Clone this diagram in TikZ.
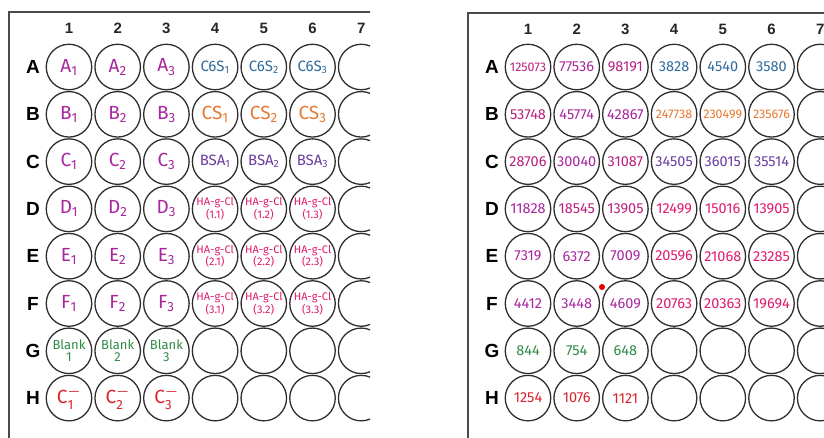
\documentclass[tikz,border=0pt]{standalone}
\usepackage{fontspec}
\usepackage{amsmath}
\setmainfont{Liberation Sans}
\newfontfamily\hand{Fira Sans}
\definecolor{mag}{HTML}{A8259E}
\definecolor{magr}{HTML}{B8207F}
\definecolor{blueC}{HTML}{2F6A9C}
\definecolor{orangeC}{HTML}{E8772F}
\definecolor{purpC}{HTML}{6A3C9E}
\definecolor{pinkC}{HTML}{E01A6E}
\definecolor{greenC}{HTML}{2E8B48}
\definecolor{redC}{HTML}{D8222E}
\definecolor{frameC}{HTML}{4A4A4A}
\tikzset{
  well/.style={circle, draw=black!82, line width=1.3pt, minimum size=45.5pt, inner sep=0pt},
  frameline/.style={draw=frameC, line width=2.2pt},
  rowlab/.style={font=\fontsize{19}{19}\selectfont\bfseries, inner sep=0pt},
  collab/.style={font=\fontsize{15}{15}\selectfont\bfseries, text=black!85, inner sep=0pt},
  wt/.style={font=\hand\fontsize{19}{19}\selectfont, inner sep=0pt},
  wsm/.style={font=\hand\fontsize{15}{15}\selectfont, inner sep=0pt},
  ha/.style={font=\hand\fontsize{11}{11}\selectfont, align=center, inner sep=0pt, text=pinkC},
  bl/.style={font=\hand\fontsize{13}{12.5}\selectfont, align=center, inner sep=0pt, text=greenC},
  num/.style={font=\hand\fontsize{14.5}{14.5}\selectfont, inner sep=0pt},
  numl/.style={font=\hand\fontsize{12.5}{12.5}\selectfont, inner sep=0pt},
}
\begin{document}
\begin{tikzpicture}[x=1pt,y=-1pt]
\useasboundingbox (0,0) rectangle (824,437);
% ================= left plate =================
\begin{scope}
\clip (0,0) rectangle (370,437);
\coordinate (LTR) at (372,12);
\coordinate (LTL) at (9,12);
\coordinate (LBL) at (9,440);
\draw[frameline] (LTR) -- (LTL) -- (LBL);
\foreach \r [count=\ri] in {A,B,C,D,E,F,G,H} {
  \foreach \c in {1,...,7} {
    \node[well] (L\r\c) at ({69+(\c-1)*48.7},{67+(\ri-1)*47.3}) {};
  }
  \node[rowlab] (LR\r) at (33,{67+(\ri-1)*47.3}) {\r};
}
\foreach \c in {1,...,7} {
  \node[collab] (LK\c) at ({69+(\c-1)*48.7},28) {\c};
}
\end{scope}
% left plate texts, columns 1-3
\foreach \r in {A,B,C,D,E,F} {
  \foreach \c in {1,2,3} {
    \node[wt, text=mag] (LT\r\c) at (L\r\c) {\r\textsubscript{\c}};
  }
}
\foreach \c in {4,5,6} {
  \pgfmathtruncatemacro{\k}{\c-3}
  \node[wsm, text=blueC] (LTA\c) at (LA\c) {C6S\textsubscript{\k}};
  \node[wt, text=orangeC] (LTB\c) at (LB\c) {CS\textsubscript{\k}};
  \node[wsm, text=purpC] (LTC\c) at (LC\c) {BSA\textsubscript{\k}};
  \node[ha] (LTD\c) at (LD\c) {HA-g-Cl\\(1.\k)};
  \node[ha] (LTE\c) at (LE\c) {HA-g-Cl\\(2.\k)};
  \node[ha] (LTF\c) at (LF\c) {HA-g-Cl\\(3.\k)};
}
\foreach \c in {1,2,3} {
  \node[bl] (LTG\c) at (LG\c) {Blank\\\c};
  \node[wt, text=redC] (LTH\c) at (LH\c) {$\text{C}^{\boldsymbol{-}}_{\text{\c}}$};
}
% ================= right plate =================
\begin{scope}
\clip (380,0) rectangle (824,437);
\coordinate (RTR) at (830,13);
\coordinate (RTL) at (468,13);
\coordinate (RBL) at (468,440);
\draw[frameline] (RTR) -- (RTL) -- (RBL);
\foreach \r [count=\ri] in {A,B,C,D,E,F,G,H} {
  \foreach \c in {1,...,7} {
    \node[well] (R\r\c) at ({528+(\c-1)*48.7},{67+(\ri-1)*47.3}) {};
  }
  \node[rowlab] (RR\r) at (492,{67+(\ri-1)*47.3}) {\r};
}
\foreach \c in {1,...,7} {
  \node[collab] (RK\c) at ({528+(\c-1)*48.7},29) {\c};
}
\end{scope}
% right plate numbers
\foreach \r/\c/\col/\v/\s in {
  A/1/magr/125073/numl, A/2/mag/77536/num, A/3/magr/98191/num,
  A/4/blueC/3828/num, A/5/blueC/4540/num, A/6/blueC/3580/num,
  B/1/magr/53748/num, B/2/mag/45774/num, B/3/mag/42867/num,
  B/4/orangeC/247738/numl, B/5/orangeC/230499/numl, B/6/orangeC/235676/numl,
  C/1/magr/28706/num, C/2/mag/30040/num, C/3/magr/31087/num,
  C/4/purpC/34505/num, C/5/purpC/36015/num, C/6/purpC/35514/num,
  D/1/mag/11828/num, D/2/magr/18545/num, D/3/magr/13905/num,
  D/4/pinkC/12499/num, D/5/pinkC/15016/num, D/6/pinkC/13905/num,
  E/1/mag/7319/num, E/2/mag/6372/num, E/3/mag/7009/num,
  E/4/pinkC/20596/num, E/5/pinkC/21068/num, E/6/pinkC/23285/num,
  F/1/mag/4412/num, F/2/mag/3448/num, F/3/mag/4609/num,
  F/4/pinkC/20763/num, F/5/pinkC/20363/num, F/6/pinkC/19694/num,
  G/1/greenC/844/num, G/2/greenC/754/num, G/3/greenC/648/num,
  H/1/redC/1254/num, H/2/redC/1076/num, H/3/redC/1121/num} {
  \node[\s, text=\col] (RT\r\c) at (R\r\c) {\v};
}
\node[circle, fill=red!90!black, minimum size=6pt, inner sep=0pt] (dot) at (602,287) {};
\end{tikzpicture}
\end{document}
